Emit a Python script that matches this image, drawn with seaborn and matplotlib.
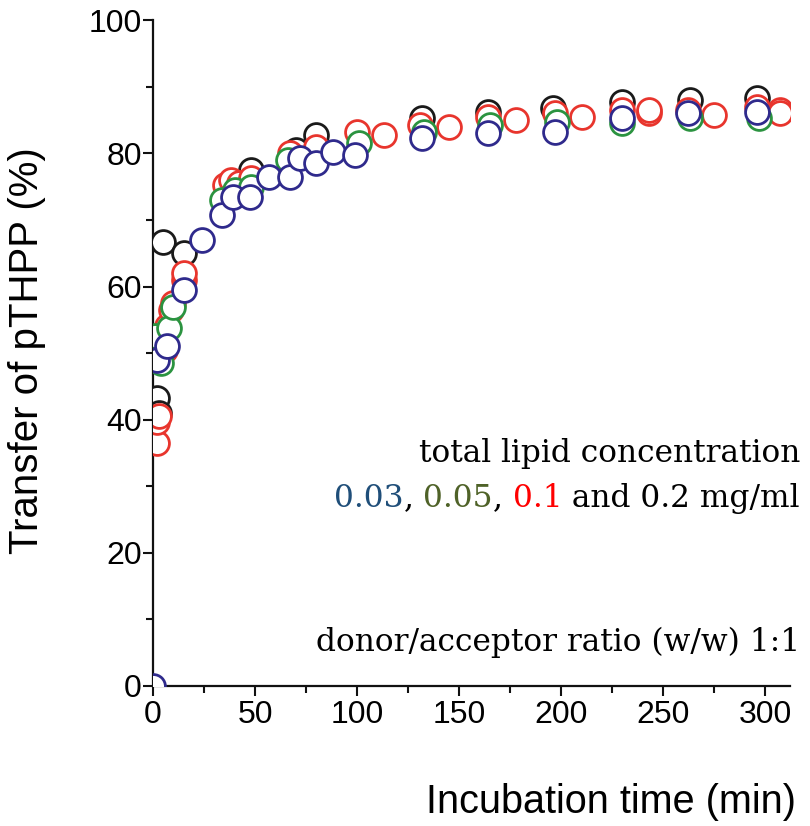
import pandas as pd
import matplotlib.pyplot as plt
import seaborn as sns

# values (time in min, transfer in %)
black_t = [2, 3, 5, 15, 48, 70, 80, 132, 164, 196, 230, 263, 296]
black_y = [43.3, 41.0, 66.7, 65.0, 77.5, 80.5, 82.7, 85.3, 86.2, 86.8, 87.7, 88.0, 88.3]

red_t = [2, 2, 3, 6, 7, 9, 10, 15, 15, 35, 38, 42, 48, 67, 80, 100, 113,
         131, 145, 164, 178, 197, 210, 230, 243, 243, 262, 275, 296, 307, 307]
red_y = [36.5, 39.6, 40.5, 50.5, 54.0, 56.5, 57.5, 61.0, 62.0, 75.2, 76.0, 75.5, 76.3, 80.0, 81.0, 83.2, 82.7,
         84.2, 84.0, 85.4, 85.0, 86.0, 85.4, 86.5, 86.0, 86.5, 86.5, 85.7, 87.0, 86.5, 86.0]

green_t = [1, 4, 8, 10, 34, 40, 48, 66, 101, 133, 165, 198, 230, 263, 297]
green_y = [52.5, 48.5, 53.8, 57.0, 73.0, 74.5, 75.0, 79.0, 81.5, 83.2, 84.2, 84.7, 84.5, 85.3, 85.3]

blue_t = [0, 2, 7, 15, 24, 34, 39, 47.5, 57, 67, 72, 80, 88, 99,
          132, 164, 197, 230, 262, 296]
blue_y = [0.0, 49.0, 51.0, 59.5, 67.0, 70.7, 73.4, 73.4, 76.4, 76.4, 79.3, 78.5, 80.2, 79.7,
          82.3, 83.0, 83.2, 85.3, 86.0, 86.2]

series = [
    ("0.2", black_t, black_y, "#1a1a1a"),
    ("0.1", red_t, red_y, "#e8352d"),
    ("0.05", green_t, green_y, "#2b9340"),
    ("0.03", blue_t, blue_y, "#2f2a8c"),
]

x_ticks = [0, 50, 100, 150, 200, 250, 300]
y_ticks = [0, 20, 40, 60, 80, 100]

sns.set_style("ticks")
plt.rcParams['font.family'] = ['Liberation Sans', 'DejaVu Sans']

fig = plt.figure(figsize=(8.1, 8.26), dpi=100)
ax = fig.add_axes([0.189, 0.1695, 0.786, 0.806])

for name, t, y, col in series:
    df = pd.DataFrame({"t": t, "y": y})
    sns.scatterplot(data=df, x="t", y="y", ax=ax, color=col, facecolor="white",
                    edgecolor=col, s=295, linewidth=2.0, marker="o", zorder=3)

ax.set_xlim(0, 312)
ax.set_ylim(0, 100)
ax.set_xticks(x_ticks)
ax.set_yticks(y_ticks)
ax.set_xticks([25, 75, 125, 175, 225, 275], minor=True)
ax.set_yticks([10, 30, 50, 70, 90], minor=True)
ax.tick_params(which="major", length=7, width=1.5, labelsize=23, color="#111111", labelcolor="black")
ax.tick_params(axis="y", which="major", pad=1)
ax.tick_params(axis="x", which="major", pad=3)
ax.tick_params(which="minor", length=5, width=1.5, color="#111111")
for side in ["top", "right"]:
    ax.spines[side].set_visible(False)
for side in ["left", "bottom"]:
    ax.spines[side].set_linewidth(1.6)
    ax.spines[side].set_color("#111111")

ax.set_xlabel("Incubation time (min)", fontsize=28.5, color="black")
ax.set_ylabel("Transfer of pTHPP (%)", fontsize=29, color="black")
ax.xaxis.set_label_coords(0.72, -0.146)
ax.yaxis.set_label_coords(-0.168, 0.503)

serif = ["DejaVu Serif"]
fs = 22.5
fig.text(800 / 810, 1 - 462 / 826, "total lipid concentration", ha="right", va="baseline",
         fontsize=fs, family=serif, color="black")
# second line built from the right
parts = [(" and 0.2 mg/ml", "black"), ("0.1", "#ff0000"), (", ", "black"),
         ("0.05", "#4f6228"), (", ", "black"), ("0.03", "#1f4e79")]
prev = fig.text(800 / 810, 1 - 507 / 826, parts[0][0], ha="right", va="baseline",
                fontsize=fs, family=serif, color=parts[0][1])
for txt, col in parts[1:]:
    prev = ax.annotate(txt, xy=(0, 0), xycoords=prev, ha="right", va="bottom",
                       fontsize=fs, family=serif, color=col, annotation_clip=False)
fig.text(800 / 810, 1 - 651 / 826, "donor/acceptor ratio (w/w) 1:1", ha="right", va="baseline",
         fontsize=fs, family=serif, color="black")

fig.savefig("out.png", dpi=100)
